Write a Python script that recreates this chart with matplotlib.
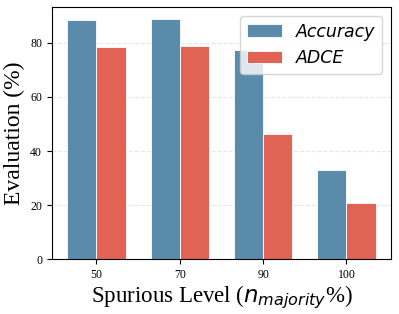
import numpy as np
import matplotlib.pyplot as plt

levels = ['50', '70', '90', '100']
accuracy = [88.5, 88.9, 77.4, 33.0]
adce = [78.4, 78.7, 46.2, 20.6]

plt.rcParams['font.family'] = 'Liberation Serif'
plt.rcParams['mathtext.fontset'] = 'dejavusans'

fig, ax = plt.subplots(figsize=(3.99, 3.14), dpi=100)
x = np.arange(len(levels))
w = 0.35
ax.bar(x - w / 2, accuracy, w, color='#5a8bab', edgecolor='white', linewidth=0.6, label='Accuracy')
ax.bar(x + w / 2, adce, w, color='#e06353', edgecolor='white', linewidth=0.6, label='ADCE')

ax.set_xticks(x)
ax.set_xticklabels(levels)
ax.tick_params(labelsize=8.5)
ax.yaxis.grid(True, linestyle='--', color='#dddddd', alpha=0.7)
ax.set_axisbelow(True)
ax.set_xlabel(r'Spurious Level ($n_{majority}$%)', fontsize=16.5, labelpad=2)
ax.set_ylabel('Evaluation (%)', fontsize=17, labelpad=4)
ax.legend(loc='upper right', prop={'family': 'DejaVu Sans', 'style': 'italic', 'size': 12.5})

plt.subplots_adjust(left=0.13, right=0.98, top=0.978, bottom=0.175)
plt.savefig('out.png')
